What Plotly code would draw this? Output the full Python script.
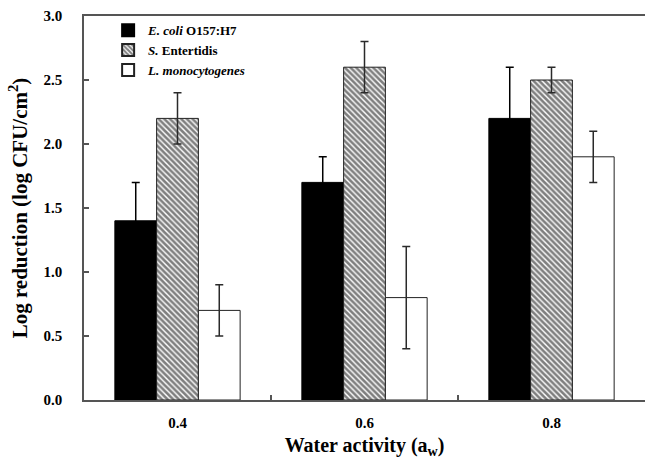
import plotly.graph_objects as go

categories = ["0.4", "0.6", "0.8"]
ecoli = [1.4, 1.7, 2.2]
ecoli_err = [0.3, 0.2, 0.4]
senter = [2.2, 2.6, 2.5]
senter_err = [0.2, 0.2, 0.1]
lmono = [0.7, 0.8, 1.9]
lmono_err = [0.2, 0.4, 0.2]
names = ["<b><i>E. coli</i> O157:H7</b>", "<b><i>S.</i> Entertidis</b>", "<b><i>L. monocytogenes</i></b>"]

FONT = "Liberation Serif"
err_style = dict(type="data", thickness=1.5, width=4)

fig = go.Figure()
fig.add_bar(x=categories, y=ecoli, name=names[0],
            marker=dict(color="black", line=dict(color="black", width=1)),
            error_y=dict(array=ecoli_err, color="black", **err_style))
fig.add_bar(x=categories, y=senter, name=names[1],
            marker=dict(color="white", line=dict(color="#222", width=1),
                        pattern=dict(shape="\\", fgcolor="black", bgcolor="white",
                                     size=4, solidity=0.65)),
            error_y=dict(array=senter_err, color="#2a2a2a", **err_style))
fig.add_bar(x=categories, y=lmono, name=names[2],
            marker=dict(color="white", line=dict(color="#222", width=1)),
            error_y=dict(array=lmono_err, color="#2a2a2a", **err_style))

fig.update_layout(
    width=645, height=459,
    margin=dict(l=84, r=0, t=16, b=59),
    paper_bgcolor="white", plot_bgcolor="white",
    barmode="group", bargap=0.33, bargroupgap=0,
    font=dict(family=FONT, color="black"),
    showlegend=True,
    legend=dict(x=0.043, y=1.002, xanchor="left", yanchor="top",
                bgcolor="rgba(0,0,0,0)",
                font=dict(family=FONT, size=13, color="black"),
                itemsizing="constant"),
)
fig.update_xaxes(
    type="category", range=[-0.5, 2.5],
    showline=True, linecolor="#555", linewidth=1.5, mirror=True,
    ticks="inside", tickson="boundaries", ticklen=5, tickcolor="#555", tickwidth=1.5,
    showgrid=False, zeroline=False, automargin=False, ticklabelstandoff=8,
    tickfont=dict(family=FONT, size=15, color="black", weight="bold"),
    title=dict(text="<b>Water activity (a<sub>w</sub>)</b>", font=dict(family=FONT, size=20), standoff=15),
)
fig.update_yaxes(
    range=[0, 3], dtick=0.5, tickformat=".1f",
    showline=True, linecolor="#555", linewidth=1.5, mirror=False,
    ticks="inside", ticklen=5, tickcolor="#555", tickwidth=1.5,
    showgrid=False, zeroline=False, automargin=False, ticklabelstandoff=17,
    tickfont=dict(family=FONT, size=15, color="black", weight="bold"),
    title=dict(text="<b>Log reduction (log CFU/cm<sup>2</sup>)</b>", font=dict(family=FONT, size=21), standoff=10),
)

fig.write_html("out.html", config={"displayModeBar": False},
               post_script="document.body.style.margin='0';")
